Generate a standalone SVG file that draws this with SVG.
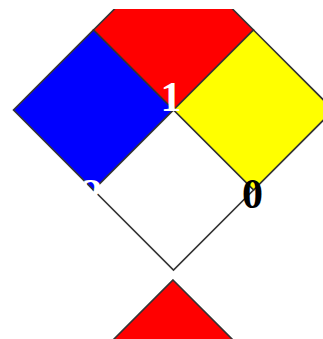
<svg xmlns="http://www.w3.org/2000/svg" width="323" height="339" viewBox="0 0 323 339">
<style>
.q{stroke:#333;stroke-width:1.6;stroke-linejoin:miter}
.n{font-family:"Liberation Serif","Times New Roman",serif;font-weight:bold;font-size:42px;text-anchor:middle}
</style>
<defs>
<clipPath id="clip"><rect x="0" y="9" width="323" height="330"/></clipPath>
</defs>
<rect width="323" height="339" fill="#fff"/>
<g clip-path="url(#clip)">
<g id="flammability"><polygon class="q" fill="#ff0000" points="173.5,-50 253.5,30 173.5,110 93.5,30"/></g>
<g id="health"><polygon class="q" fill="#0000ff" points="93.5,30 173.5,110 93.5,190 13.5,110"/></g>
<g id="reactivity"><polygon class="q" fill="#ffff00" points="253.5,30 333.5,110 253.5,190 173.5,110"/></g>
<g id="special"><polygon class="q" fill="#ffffff" points="173.5,110 253.5,190 173.5,270 93.5,190"/></g>
<g id="next-diamond"><polygon class="q" fill="#ff0000" points="173,280 253,360 173,440 93,360"/></g>
</g>
<g id="labels">
<text class="n" x="171" y="111" fill="#fff">1</text>
<text class="n" x="92" y="208" fill="#fff">2</text>
<text class="n" x="252.5" y="208" fill="#000">0</text>
</g>
<g id="connectors"/>
</svg>
